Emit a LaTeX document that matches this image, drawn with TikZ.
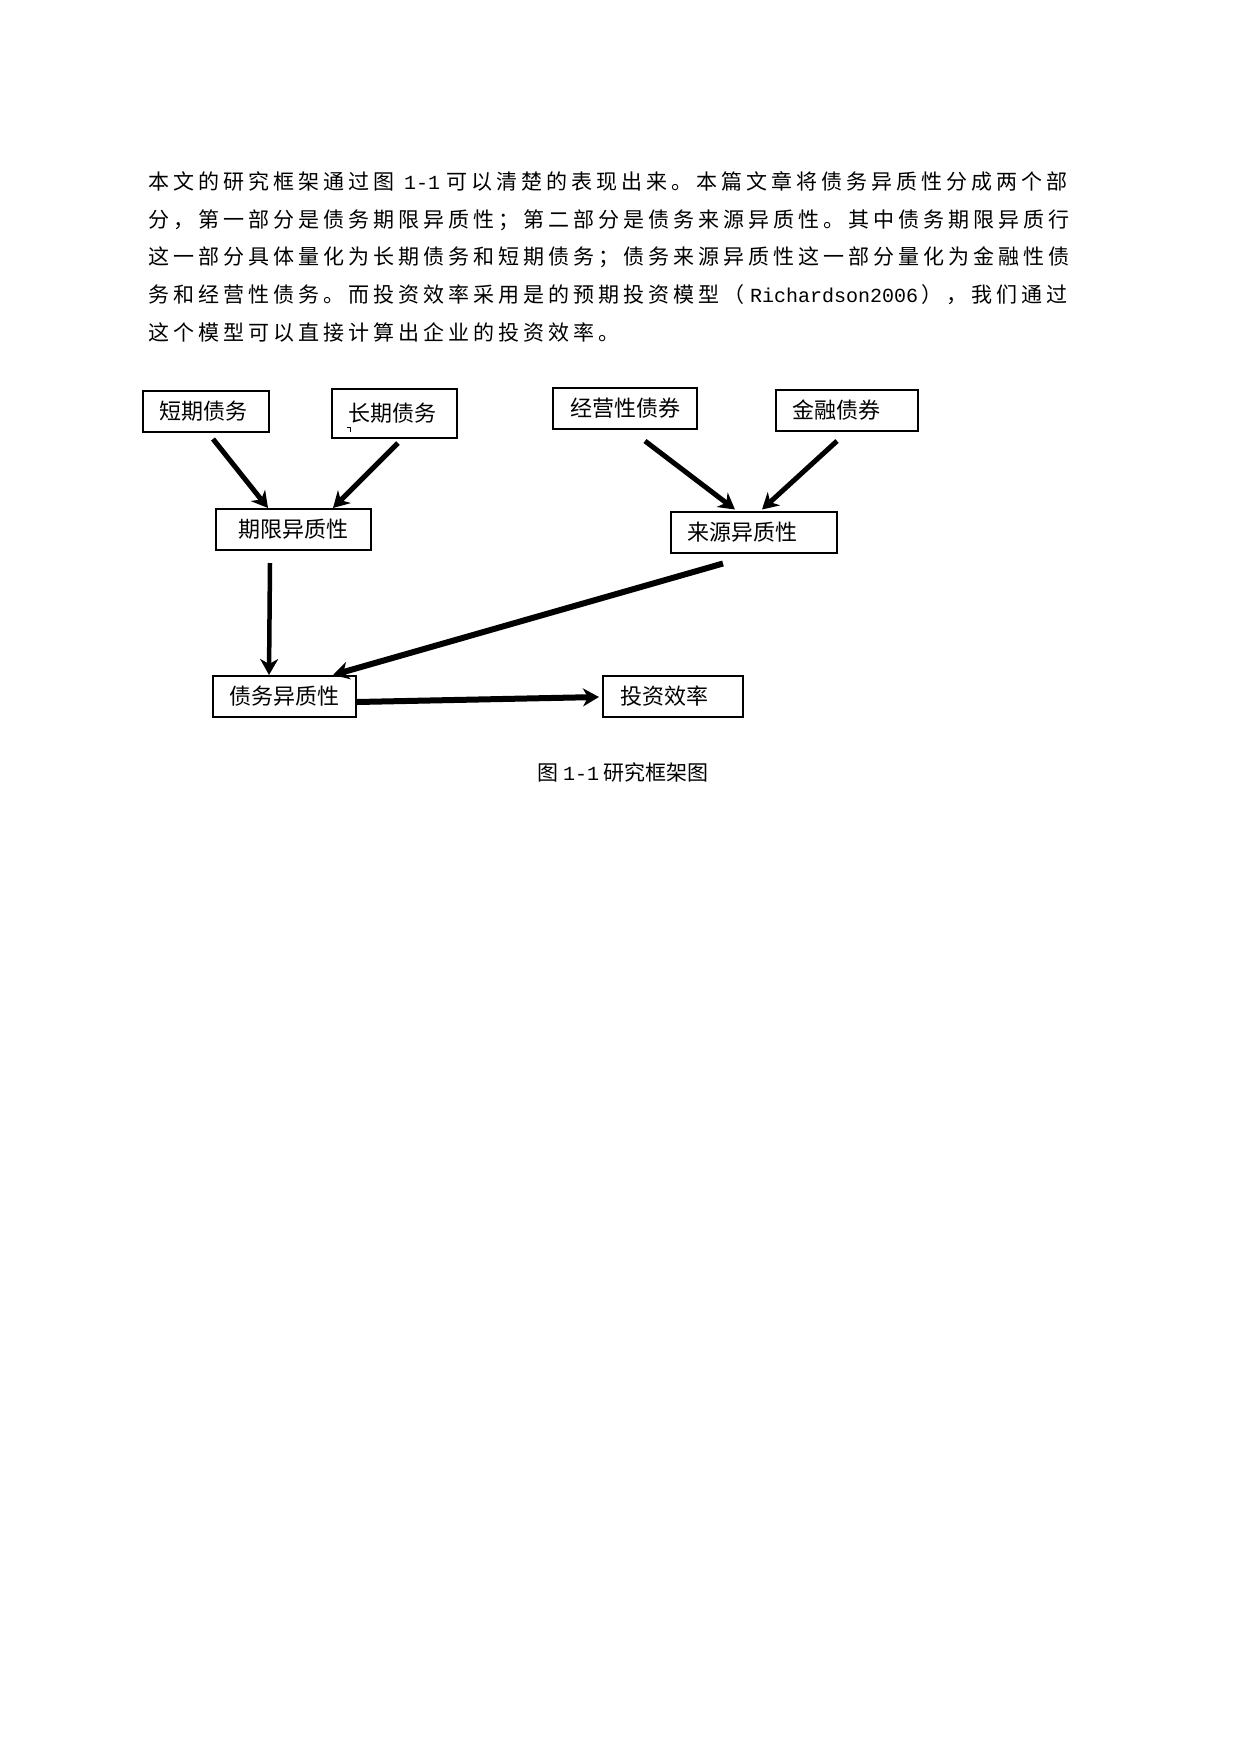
\documentclass[tikz,border=0pt]{standalone}
\usepackage{fontspec}
\setmainfont{Noto Sans CJK SC}
\newfontfamily\monofam{Liberation Mono}
\usetikzlibrary{arrows.meta}
\makeatletter
\newcommand\gridtext[1]{\@tfor\gridch:=#1\do{\makebox[25pt][l]{\gridch}}}
\makeatother
\begin{document}
\begin{tikzpicture}[x=1pt,y=-1pt,
  para/.style={anchor=base west, inner sep=0pt, font=\fontsize{21pt}{24pt}\selectfont},
  box/.style={draw, line width=2pt, inner ysep=0pt, minimum height=41pt, align=left,
              font=\fontsize{22pt}{26pt}\selectfont},
  arr/.style={line width=5pt, -{Stealth[length=16pt,width=18pt,inset=5pt]}},
  capt/.style={anchor=base west, inner sep=0pt, font=\fontsize{21pt}{24pt}\selectfont}]
\useasboundingbox (0,0) rectangle (1240,1754);

% paragraph
\node[para] (p1) at (148,189) {\gridtext{本文的研究框架通过图}\hspace{6pt}{\monofam\fontsize{20pt}{24pt}\selectfont 1-1}\hspace{6pt}\gridtext{可以清楚的表现出来。本篇文章将债务异质性分成两个部}};
\node[para] (p2) at (148,227) {\gridtext{分，第一部分是债务期限异质性；第二部分是债务来源异质性。其中债务期限异质行}};
\node[para] (p3) at (148,264.5) {\gridtext{这一部分具体量化为长期债务和短期债务；债务来源异质性这一部分量化为金融性债}};
\node[para] (p4) at (148,302) {\gridtext{务和经营性债务。而投资效率采用是的预期投资模型（}\hspace{2pt}{\monofam\fontsize{20pt}{24pt}\selectfont Richardson2006}\hspace{3pt}\gridtext{），我们通过}};
\node[para] (p5) at (148,340) {\gridtext{这个模型可以直接计算出企业的投资效率。}};

% boxes
\node[box, inner xsep=16pt, text width=94pt] (s1) at (206,411.5) {短期债务};
\node[box, inner xsep=16pt, text width=93pt, minimum height=49pt] (s2) at (394.5,413.5) {长期债务};
\node[box, inner xsep=17pt, text width=110pt] (j1) at (625,408.5) {经营性债券};
\node[box, inner xsep=16pt, text width=110pt] (j2) at (847,410.5) {金融债券};
\node[box, inner xsep=17pt, text width=121pt, align=center] (q) at (293.5,529.5) {期限异质性};
\node[box, inner xsep=16pt, text width=134pt] (l) at (754,532) {来源异质性};
\node[box, inner xsep=16.5pt, text width=110pt] (d) at (284.5,696.5) {债务异质性};
\node[box, inner xsep=17pt, text width=106pt] (t) at (673,696.5) {投资效率};

% small mark inside the box
\draw[line width=1.2pt] (347,427.5) -- (350.5,427.5) -- (350.5,432);

% connectors
\draw[arr] ([shift={(7,6)}]s1.south) -- ([shift={(-25.5,0)}]q.north);
\draw[arr] ([shift={(3.5,4)}]s2.south) -- ([shift={(39.5,0)}]q.north);
\draw[arr] ([shift={(20,11)}]j1.south) -- ([shift={(-19,-1)}]l.north);
\draw[arr] ([shift={(-10,9)}]j2.south) -- ([shift={(8,-1)}]l.north);
\draw[arr, line width=4.5pt] ([shift={(-23.5,12)}]q.south) -- ([shift={(-15.5,0)}]d.north);
\draw[arr, line width=6pt] ([shift={(-31,10)}]l.south) -- ([shift={(48.5,0)}]d.north);
\draw[arr, line width=6pt] ([shift={(0,5.5)}]d.east) -- ([shift={(-3,0.5)}]t.west);

% caption
\node[capt] (cap) at (537,780) {图\hspace{5pt}{\monofam\fontsize{20pt}{24pt}\selectfont 1-1}\hspace{4pt}研究框架图};
\end{tikzpicture}
\end{document}
